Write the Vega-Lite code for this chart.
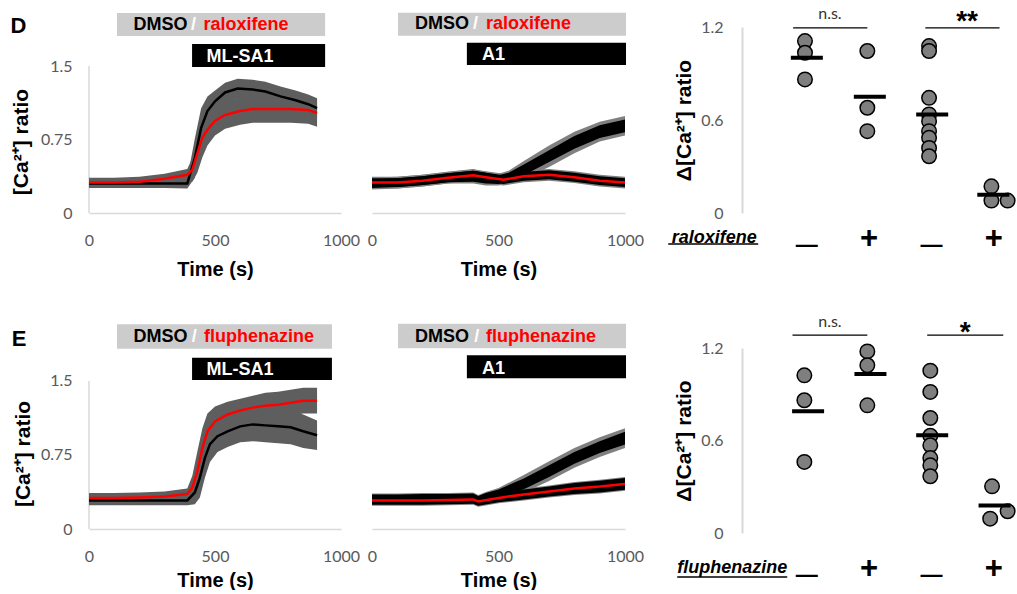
{
"$schema":"https://vega.github.io/schema/vega-lite/v6.json",
"background":"#ffffff",
"padding":{"left":10,"top":5,"right":0,"bottom":0},
"autosize":{"type":"pad"},
"config":{"view":{"stroke":null},"axis":{"grid":false},"font":"Liberation Sans"},
"datasets":{
"hdr":[
{"p":"D1","kind":"grey","x1":111,"x2":937,"y1":1.806,"y2":2.041},
{"p":"D1","kind":"black","x1":409,"x2":937,"y1":1.49,"y2":1.724},
{"p":"D2","kind":"grey","x1":103,"x2":1004,"y1":1.809,"y2":2.044},
{"p":"D2","kind":"black","x1":375,"x2":1004,"y1":1.51,"y2":1.738},
{"p":"E1","kind":"grey","x1":111,"x2":964,"y1":1.827,"y2":2.074},
{"p":"E1","kind":"black","x1":409,"x2":964,"y1":1.51,"y2":1.736},
{"p":"E2","kind":"grey","x1":103,"x2":1004,"y1":1.831,"y2":2.08},
{"p":"E2","kind":"black","x1":375,"x2":1004,"y1":1.527,"y2":1.76}],
"htxt":[
{"p":"D1","part":"dmso","t":284,"v":1.923,"lab":"DMSO"},
{"p":"D1","part":"slash","t":415,"v":1.923,"lab":"/"},
{"p":"D1","part":"drug","t":623,"v":1.923,"lab":"raloxifene"},
{"p":"D1","part":"stim","t":599,"v":1.592,"lab":"ML-SA1"},
{"p":"D2","part":"dmso","t":277,"v":1.926,"lab":"DMSO"},
{"p":"D2","part":"slash","t":409,"v":1.926,"lab":"/"},
{"p":"D2","part":"drug","t":619,"v":1.926,"lab":"raloxifene"},
{"p":"D2","part":"stim","t":480,"v":1.612,"lab":"A1"},
{"p":"E1","part":"dmso","t":284,"v":1.945,"lab":"DMSO"},
{"p":"E1","part":"slash","t":418,"v":1.945,"lab":"/"},
{"p":"E1","part":"drug","t":675,"v":1.945,"lab":"fluphenazine"},
{"p":"E1","part":"stim","t":599,"v":1.611,"lab":"ML-SA1"},
{"p":"E2","part":"dmso","t":277,"v":1.945,"lab":"DMSO"},
{"p":"E2","part":"slash","t":414,"v":1.945,"lab":"/"},
{"p":"E2","part":"drug","t":668,"v":1.945,"lab":"fluphenazine"},
{"p":"E2","part":"stim","t":480,"v":1.626,"lab":"A1"}],
"lab":[
{"p":"D1","k":"letter","t":-280,"v":1.908,"lab":"D"},
{"p":"E1","k":"letter","t":-277,"v":1.93,"lab":"E"},
{"p":"D1","k":"yt","t":-266,"v":0.724,"lab":"[Ca²⁺] ratio"},
{"p":"E1","k":"yt","t":-258,"v":0.76,"lab":"[Ca²⁺] ratio"}],
"axl":[
{"p":"D1","t":0,"v0":0,"v1":1.5},
{"p":"E1","t":0,"v0":0,"v1":1.5}],
"ts":[
{"p":"D1","s":"DMSO","t":0,"m":0.30,"lo":0.255,"hi":0.345},
{"p":"D1","s":"DMSO","t":100,"m":0.30,"lo":0.255,"hi":0.345},
{"p":"D1","s":"DMSO","t":200,"m":0.30,"lo":0.255,"hi":0.345},
{"p":"D1","s":"DMSO","t":300,"m":0.30,"lo":0.255,"hi":0.345},
{"p":"D1","s":"DMSO","t":390,"m":0.30,"lo":0.25,"hi":0.35},
{"p":"D1","s":"DMSO","t":420,"m":0.56,"lo":0.36,"hi":0.76},
{"p":"D1","s":"DMSO","t":445,"m":0.87,"lo":0.67,"hi":1.07},
{"p":"D1","s":"DMSO","t":470,"m":1.04,"lo":0.89,"hi":1.19},
{"p":"D1","s":"DMSO","t":500,"m":1.14,"lo":1.03,"hi":1.25},
{"p":"D1","s":"DMSO","t":540,"m":1.23,"lo":1.13,"hi":1.33},
{"p":"D1","s":"DMSO","t":590,"m":1.27,"lo":1.17,"hi":1.37},
{"p":"D1","s":"DMSO","t":650,"m":1.26,"lo":1.16,"hi":1.36},
{"p":"D1","s":"DMSO","t":700,"m":1.24,"lo":1.14,"hi":1.34},
{"p":"D1","s":"DMSO","t":760,"m":1.19,"lo":1.09,"hi":1.29},
{"p":"D1","s":"DMSO","t":820,"m":1.15,"lo":1.05,"hi":1.25},
{"p":"D1","s":"DMSO","t":870,"m":1.11,"lo":1.01,"hi":1.21},
{"p":"D1","s":"DMSO","t":905,"m":1.07,"lo":0.97,"hi":1.17},
{"p":"D1","s":"drug","t":0,"m":0.31,"lo":0.26,"hi":0.36},
{"p":"D1","s":"drug","t":100,"m":0.31,"lo":0.26,"hi":0.36},
{"p":"D1","s":"drug","t":200,"m":0.32,"lo":0.27,"hi":0.37},
{"p":"D1","s":"drug","t":300,"m":0.35,"lo":0.30,"hi":0.40},
{"p":"D1","s":"drug","t":390,"m":0.39,"lo":0.33,"hi":0.45},
{"p":"D1","s":"drug","t":410,"m":0.44,"lo":0.32,"hi":0.56},
{"p":"D1","s":"drug","t":430,"m":0.61,"lo":0.41,"hi":0.81},
{"p":"D1","s":"drug","t":450,"m":0.77,"lo":0.57,"hi":0.97},
{"p":"D1","s":"drug","t":470,"m":0.85,"lo":0.69,"hi":1.01},
{"p":"D1","s":"drug","t":500,"m":0.94,"lo":0.79,"hi":1.09},
{"p":"D1","s":"drug","t":540,"m":1.00,"lo":0.86,"hi":1.14},
{"p":"D1","s":"drug","t":600,"m":1.04,"lo":0.90,"hi":1.18},
{"p":"D1","s":"drug","t":650,"m":1.06,"lo":0.92,"hi":1.20},
{"p":"D1","s":"drug","t":700,"m":1.06,"lo":0.92,"hi":1.20},
{"p":"D1","s":"drug","t":800,"m":1.06,"lo":0.92,"hi":1.20},
{"p":"D1","s":"drug","t":870,"m":1.05,"lo":0.91,"hi":1.19},
{"p":"D1","s":"drug","t":905,"m":1.02,"lo":0.88,"hi":1.16},
{"p":"D2","s":"DMSO","t":0,"m":0.30,"lo":0.24,"hi":0.36,"ilo":0.255,"ihi":0.345},
{"p":"D2","s":"DMSO","t":100,"m":0.31,"lo":0.25,"hi":0.37,"ilo":0.265,"ihi":0.355},
{"p":"D2","s":"DMSO","t":200,"m":0.33,"lo":0.27,"hi":0.39,"ilo":0.285,"ihi":0.375},
{"p":"D2","s":"DMSO","t":300,"m":0.36,"lo":0.30,"hi":0.42,"ilo":0.315,"ihi":0.405},
{"p":"D2","s":"DMSO","t":400,"m":0.385,"lo":0.30,"hi":0.45,"ilo":0.32,"ihi":0.43},
{"p":"D2","s":"DMSO","t":450,"m":0.36,"lo":0.28,"hi":0.42,"ilo":0.30,"ihi":0.41},
{"p":"D2","s":"DMSO","t":500,"m":0.34,"lo":0.28,"hi":0.40,"ilo":0.295,"ihi":0.385},
{"p":"D2","s":"DMSO","t":540,"m":0.365,"lo":0.30,"hi":0.43,"ilo":0.32,"ihi":0.41},
{"p":"D2","s":"DMSO","t":600,"m":0.44,"lo":0.35,"hi":0.53,"ilo":0.385,"ihi":0.495},
{"p":"D2","s":"DMSO","t":700,"m":0.58,"lo":0.47,"hi":0.69,"ilo":0.52,"ihi":0.64},
{"p":"D2","s":"DMSO","t":800,"m":0.72,"lo":0.61,"hi":0.83,"ilo":0.655,"ihi":0.785},
{"p":"D2","s":"DMSO","t":900,"m":0.83,"lo":0.73,"hi":0.93,"ilo":0.765,"ihi":0.895},
{"p":"D2","s":"DMSO","t":1000,"m":0.89,"lo":0.79,"hi":0.99,"ilo":0.825,"ihi":0.955},
{"p":"D2","s":"drug","t":0,"m":0.31,"lo":0.25,"hi":0.37,"ilo":0.265,"ihi":0.355},
{"p":"D2","s":"drug","t":100,"m":0.31,"lo":0.25,"hi":0.37,"ilo":0.265,"ihi":0.355},
{"p":"D2","s":"drug","t":200,"m":0.33,"lo":0.27,"hi":0.39,"ilo":0.285,"ihi":0.375},
{"p":"D2","s":"drug","t":300,"m":0.36,"lo":0.30,"hi":0.42,"ilo":0.315,"ihi":0.405},
{"p":"D2","s":"drug","t":400,"m":0.385,"lo":0.325,"hi":0.445,"ilo":0.34,"ihi":0.43},
{"p":"D2","s":"drug","t":450,"m":0.365,"lo":0.305,"hi":0.425,"ilo":0.32,"ihi":0.41},
{"p":"D2","s":"drug","t":520,"m":0.34,"lo":0.28,"hi":0.40,"ilo":0.295,"ihi":0.385},
{"p":"D2","s":"drug","t":600,"m":0.375,"lo":0.315,"hi":0.435,"ilo":0.33,"ihi":0.42},
{"p":"D2","s":"drug","t":700,"m":0.39,"lo":0.33,"hi":0.45,"ilo":0.345,"ihi":0.435},
{"p":"D2","s":"drug","t":800,"m":0.365,"lo":0.305,"hi":0.425,"ilo":0.32,"ihi":0.41},
{"p":"D2","s":"drug","t":900,"m":0.33,"lo":0.27,"hi":0.39,"ilo":0.285,"ihi":0.375},
{"p":"D2","s":"drug","t":1000,"m":0.31,"lo":0.25,"hi":0.37,"ilo":0.265,"ihi":0.355},
{"p":"E1","s":"DMSO","t":0,"m":0.29,"lo":0.24,"hi":0.34},
{"p":"E1","s":"DMSO","t":100,"m":0.29,"lo":0.24,"hi":0.34},
{"p":"E1","s":"DMSO","t":200,"m":0.29,"lo":0.24,"hi":0.34},
{"p":"E1","s":"DMSO","t":300,"m":0.29,"lo":0.24,"hi":0.34},
{"p":"E1","s":"DMSO","t":390,"m":0.29,"lo":0.24,"hi":0.34},
{"p":"E1","s":"DMSO","t":420,"m":0.37,"lo":0.25,"hi":0.49},
{"p":"E1","s":"DMSO","t":440,"m":0.52,"lo":0.32,"hi":0.72},
{"p":"E1","s":"DMSO","t":460,"m":0.72,"lo":0.52,"hi":0.92},
{"p":"E1","s":"DMSO","t":480,"m":0.86,"lo":0.68,"hi":1.04},
{"p":"E1","s":"DMSO","t":510,"m":0.94,"lo":0.78,"hi":1.10},
{"p":"E1","s":"DMSO","t":550,"m":0.99,"lo":0.83,"hi":1.15},
{"p":"E1","s":"DMSO","t":600,"m":1.04,"lo":0.88,"hi":1.20},
{"p":"E1","s":"DMSO","t":650,"m":1.06,"lo":0.89,"hi":1.23},
{"p":"E1","s":"DMSO","t":700,"m":1.05,"lo":0.88,"hi":1.22},
{"p":"E1","s":"DMSO","t":750,"m":1.04,"lo":0.87,"hi":1.21},
{"p":"E1","s":"DMSO","t":800,"m":1.03,"lo":0.86,"hi":1.20},
{"p":"E1","s":"DMSO","t":850,"m":0.99,"lo":0.82,"hi":1.16},
{"p":"E1","s":"DMSO","t":905,"m":0.95,"lo":0.80,"hi":1.10},
{"p":"E1","s":"drug","t":0,"m":0.315,"lo":0.265,"hi":0.365},
{"p":"E1","s":"drug","t":100,"m":0.315,"lo":0.265,"hi":0.365},
{"p":"E1","s":"drug","t":200,"m":0.32,"lo":0.27,"hi":0.37},
{"p":"E1","s":"drug","t":300,"m":0.33,"lo":0.28,"hi":0.38},
{"p":"E1","s":"drug","t":390,"m":0.355,"lo":0.30,"hi":0.41},
{"p":"E1","s":"drug","t":410,"m":0.42,"lo":0.30,"hi":0.54},
{"p":"E1","s":"drug","t":430,"m":0.585,"lo":0.385,"hi":0.785},
{"p":"E1","s":"drug","t":450,"m":0.82,"lo":0.62,"hi":1.02},
{"p":"E1","s":"drug","t":470,"m":0.99,"lo":0.81,"hi":1.17},
{"p":"E1","s":"drug","t":500,"m":1.09,"lo":0.94,"hi":1.24},
{"p":"E1","s":"drug","t":550,"m":1.16,"lo":1.03,"hi":1.29},
{"p":"E1","s":"drug","t":600,"m":1.20,"lo":1.08,"hi":1.32},
{"p":"E1","s":"drug","t":650,"m":1.23,"lo":1.11,"hi":1.35},
{"p":"E1","s":"drug","t":700,"m":1.25,"lo":1.12,"hi":1.38},
{"p":"E1","s":"drug","t":750,"m":1.26,"lo":1.13,"hi":1.39},
{"p":"E1","s":"drug","t":800,"m":1.28,"lo":1.15,"hi":1.41},
{"p":"E1","s":"drug","t":850,"m":1.30,"lo":1.17,"hi":1.43},
{"p":"E1","s":"drug","t":905,"m":1.30,"lo":1.17,"hi":1.43},
{"p":"E2","s":"DMSO","t":0,"m":0.305,"lo":0.25,"hi":0.36,"ilo":0.26,"ihi":0.35},
{"p":"E2","s":"DMSO","t":100,"m":0.305,"lo":0.25,"hi":0.36,"ilo":0.26,"ihi":0.35},
{"p":"E2","s":"DMSO","t":200,"m":0.31,"lo":0.255,"hi":0.365,"ilo":0.265,"ihi":0.355},
{"p":"E2","s":"DMSO","t":300,"m":0.31,"lo":0.255,"hi":0.365,"ilo":0.265,"ihi":0.355},
{"p":"E2","s":"DMSO","t":400,"m":0.315,"lo":0.26,"hi":0.37,"ilo":0.27,"ihi":0.36},
{"p":"E2","s":"DMSO","t":420,"m":0.29,"lo":0.235,"hi":0.345,"ilo":0.245,"ihi":0.335},
{"p":"E2","s":"DMSO","t":450,"m":0.32,"lo":0.265,"hi":0.375,"ilo":0.275,"ihi":0.365},
{"p":"E2","s":"DMSO","t":500,"m":0.355,"lo":0.295,"hi":0.415,"ilo":0.31,"ihi":0.40},
{"p":"E2","s":"DMSO","t":600,"m":0.457,"lo":0.367,"hi":0.547,"ilo":0.402,"ihi":0.512},
{"p":"E2","s":"DMSO","t":700,"m":0.586,"lo":0.486,"hi":0.686,"ilo":0.526,"ihi":0.646},
{"p":"E2","s":"DMSO","t":800,"m":0.72,"lo":0.62,"hi":0.82,"ilo":0.66,"ihi":0.78},
{"p":"E2","s":"DMSO","t":900,"m":0.83,"lo":0.73,"hi":0.93,"ilo":0.77,"ihi":0.89},
{"p":"E2","s":"DMSO","t":1000,"m":0.92,"lo":0.82,"hi":1.02,"ilo":0.855,"ihi":0.985},
{"p":"E2","s":"drug","t":0,"m":0.29,"lo":0.235,"hi":0.345,"ilo":0.245,"ihi":0.335},
{"p":"E2","s":"drug","t":200,"m":0.29,"lo":0.235,"hi":0.345,"ilo":0.245,"ihi":0.335},
{"p":"E2","s":"drug","t":400,"m":0.30,"lo":0.245,"hi":0.355,"ilo":0.255,"ihi":0.345},
{"p":"E2","s":"drug","t":420,"m":0.28,"lo":0.225,"hi":0.335,"ilo":0.235,"ihi":0.325},
{"p":"E2","s":"drug","t":500,"m":0.315,"lo":0.26,"hi":0.37,"ilo":0.27,"ihi":0.36},
{"p":"E2","s":"drug","t":600,"m":0.35,"lo":0.29,"hi":0.41,"ilo":0.30,"ihi":0.40},
{"p":"E2","s":"drug","t":700,"m":0.38,"lo":0.32,"hi":0.44,"ilo":0.33,"ihi":0.43},
{"p":"E2","s":"drug","t":800,"m":0.41,"lo":0.345,"hi":0.475,"ilo":0.355,"ihi":0.465},
{"p":"E2","s":"drug","t":900,"m":0.43,"lo":0.36,"hi":0.50,"ilo":0.37,"ihi":0.49},
{"p":"E2","s":"drug","t":1000,"m":0.457,"lo":0.387,"hi":0.527,"ilo":0.397,"ihi":0.517}],
"dots":[
{"p":"D3","pos":0.98,"v":1.109},{"p":"D3","pos":0.98,"v":1.034},{"p":"D3","pos":0.98,"v":0.862},
{"p":"D3","pos":1.98,"v":1.045},{"p":"D3","pos":1.98,"v":0.679},{"p":"D3","pos":1.98,"v":0.528},
{"p":"D3","pos":2.97,"v":1.077},{"p":"D3","pos":2.97,"v":1.045},{"p":"D3","pos":2.97,"v":0.743},{"p":"D3","pos":2.97,"v":0.636},{"p":"D3","pos":2.97,"v":0.592},{"p":"D3","pos":2.97,"v":0.528},{"p":"D3","pos":2.97,"v":0.485},{"p":"D3","pos":2.97,"v":0.42},{"p":"D3","pos":2.97,"v":0.366},
{"p":"D3","pos":3.97,"v":0.172},{"p":"D3","pos":3.97,"v":0.08},{"p":"D3","pos":4.23,"v":0.08},
{"p":"E3","pos":0.97,"v":1.023},{"p":"E3","pos":0.97,"v":0.861},{"p":"E3","pos":0.97,"v":0.461},
{"p":"E3","pos":1.98,"v":1.178},{"p":"E3","pos":1.98,"v":1.088},{"p":"E3","pos":1.98,"v":0.828},
{"p":"E3","pos":2.99,"v":1.053},{"p":"E3","pos":2.99,"v":0.915},{"p":"E3","pos":2.99,"v":0.746},{"p":"E3","pos":2.99,"v":0.631},{"p":"E3","pos":2.99,"v":0.569},{"p":"E3","pos":2.99,"v":0.486},{"p":"E3","pos":2.99,"v":0.439},{"p":"E3","pos":2.99,"v":0.368},
{"p":"E3","pos":3.98,"v":0.303},{"p":"E3","pos":3.95,"v":0.093},{"p":"E3","pos":4.23,"v":0.141}],
"means":[
{"p":"D3","pos":1.01,"v":1.002},{"p":"D3","pos":2.02,"v":0.75},{"p":"D3","pos":3.02,"v":0.636},{"p":"D3","pos":4.0,"v":0.118},
{"p":"E3","pos":1.03,"v":0.789},{"p":"E3","pos":2.03,"v":1.031},{"p":"E3","pos":3.02,"v":0.634},{"p":"E3","pos":4.02,"v":0.179}],
"sig":[
{"p":"D3","x1":0.79,"x2":1.98,"v":1.194},{"p":"D3","x1":2.91,"x2":4.1,"v":1.194},
{"p":"E3","x1":0.78,"x2":1.98,"v":1.284},{"p":"E3","x1":2.94,"x2":4.16,"v":1.284}],
"sigt":[
{"p":"D3","k":"ns","pos":1.38,"v":1.252,"lab":"n.s."},
{"p":"D3","k":"star","pos":3.58,"v":1.181,"lab":"**"},
{"p":"E3","k":"ns","pos":1.38,"v":1.336,"lab":"n.s."},
{"p":"E3","k":"star","pos":3.55,"v":1.243,"lab":"*"}],
"dlab":[
{"p":"D3","pos":-0.475,"v":-0.159,"lab":"raloxifene","u1":-1.213,"u2":0.23,"uv":-0.2},
{"p":"E3","pos":-0.187,"v":-0.227,"lab":"fluphenazine","u1":-1.069,"u2":0.695,"uv":-0.285}]
},
"columns":4,
"spacing":{"row":135,"column":31},
"bounds":"flush",
"concat":[
{"width":252,"height":186,"resolve":{"axis":{"x":"independent","y":"independent"}},"layer":[
{"data":{"name":"hdr"},"transform":[{"filter":"datum.p=='D1'"}],"mark":{"type":"rect"},"encoding":{"x":{"field":"x1","type":"quantitative","scale":{"domain":[0,1000]},"axis":null},"x2":{"field":"x2"},"y":{"field":"y1","type":"quantitative","scale":{"domain":[0,1.898]},"axis":null},"y2":{"field":"y2"},"fill":{"field":"kind","type":"nominal","scale":{"domain":["grey","black"],"range":["#cccccc","#000000"]},"legend":null}}},
{"data":{"name":"htxt"},"transform":[{"filter":"datum.p=='D1'"}],"mark":{"type":"text","font":"Liberation Sans","fontSize":18,"fontWeight":"bold","align":"center","baseline":"middle"},"encoding":{"x":{"field":"t","type":"quantitative","scale":{"domain":[0,1000]},"axis":null},"y":{"field":"v","type":"quantitative","scale":{"domain":[0,1.898]},"axis":null},"text":{"field":"lab"},"color":{"field":"part","type":"nominal","scale":{"domain":["dmso","slash","drug","stim"],"range":["#000000","#ffffff","#ff0000","#ffffff"]},"legend":null}}},
{"data":{"name":"lab"},"transform":[{"filter":"datum.p=='D1' && datum.k=='letter'"}],"mark":{"type":"text","font":"Liberation Sans","fontSize":22,"fontWeight":"bold","align":"center","baseline":"middle","color":"#000000"},"encoding":{"x":{"field":"t","type":"quantitative","scale":{"domain":[0,1000]},"axis":null},"y":{"field":"v","type":"quantitative","scale":{"domain":[0,1.898]},"axis":null},"text":{"field":"lab"}}},
{"data":{"name":"lab"},"transform":[{"filter":"datum.p=='D1' && datum.k=='yt'"}],"mark":{"type":"text","font":"Liberation Sans","fontSize":21,"fontWeight":"bold","align":"center","baseline":"middle","angle":270,"color":"#000000"},"encoding":{"x":{"field":"t","type":"quantitative","scale":{"domain":[0,1000]},"axis":null},"y":{"field":"v","type":"quantitative","scale":{"domain":[0,1.898]},"axis":null},"text":{"field":"lab"}}},
{"data":{"name":"axl"},"transform":[{"filter":"datum.p=='D1'"}],"mark":{"type":"rule","color":"#d9d9d9","strokeWidth":1.5},"encoding":{"x":{"field":"t","type":"quantitative","scale":{"domain":[0,1000]},"axis":null},"y":{"field":"v0","type":"quantitative","scale":{"domain":[0,1.898]},"axis":null},"y2":{"field":"v1"}}},
{"data":{"name":"ts"},"transform":[{"filter":"datum.p=='D1'"}],"mark":{"type":"area","color":"#5e5e5e","opacity":1},"encoding":{"x":{"field":"t","type":"quantitative","scale":{"domain":[0,1000]},"axis":{"values":[0,500,1000],"format":"d","title":"Time (s)","labelFont":"Lato","labelFontSize":16,"labelColor":"#595959","labelPadding":19,"ticks":false,"tickSize":0,"domainColor":"#d9d9d9","domainWidth":1.5,"titleFont":"Liberation Sans","titleFontSize":20,"titleFontWeight":"bold","titleColor":"#000000","titlePadding":11,"labelFlush":false,"labelOverlap":false}},"y":{"field":"lo","type":"quantitative","scale":{"domain":[0,1.898]},"axis":{"values":[0,0.75,1.5],"format":".2~f","title":null,"domain":false,"ticks":false,"tickSize":0,"labelFont":"Lato","labelFontSize":16,"labelColor":"#595959","labelPadding":17}},"y2":{"field":"hi"},"detail":{"field":"s","type":"nominal"}}},
{"data":{"name":"ts"},"transform":[{"filter":"datum.p=='D1' && datum.s=='DMSO'"}],"mark":{"type":"line","color":"#000000","strokeWidth":2.5},"encoding":{"x":{"field":"t","type":"quantitative","scale":{"domain":[0,1000]},"axis":null},"y":{"field":"m","type":"quantitative","scale":{"domain":[0,1.898]},"axis":null}}},
{"data":{"name":"ts"},"transform":[{"filter":"datum.p=='D1' && datum.s=='drug'"}],"mark":{"type":"line","color":"#ff0000","strokeWidth":2.5},"encoding":{"x":{"field":"t","type":"quantitative","scale":{"domain":[0,1000]},"axis":null},"y":{"field":"m","type":"quantitative","scale":{"domain":[0,1.898]},"axis":null}}}
]},
{"width":253,"height":186,"resolve":{"axis":{"x":"independent","y":"independent"}},"layer":[
{"data":{"name":"hdr"},"transform":[{"filter":"datum.p=='D2'"}],"mark":{"type":"rect"},"encoding":{"x":{"field":"x1","type":"quantitative","scale":{"domain":[0,1000]},"axis":null},"x2":{"field":"x2"},"y":{"field":"y1","type":"quantitative","scale":{"domain":[0,1.898]},"axis":null},"y2":{"field":"y2"},"fill":{"field":"kind","type":"nominal","scale":{"domain":["grey","black"],"range":["#cccccc","#000000"]},"legend":null}}},
{"data":{"name":"htxt"},"transform":[{"filter":"datum.p=='D2'"}],"mark":{"type":"text","font":"Liberation Sans","fontSize":18,"fontWeight":"bold","align":"center","baseline":"middle"},"encoding":{"x":{"field":"t","type":"quantitative","scale":{"domain":[0,1000]},"axis":null},"y":{"field":"v","type":"quantitative","scale":{"domain":[0,1.898]},"axis":null},"text":{"field":"lab"},"color":{"field":"part","type":"nominal","scale":{"domain":["dmso","slash","drug","stim"],"range":["#000000","#ffffff","#ff0000","#ffffff"]},"legend":null}}},
{"data":{"name":"ts"},"transform":[{"filter":"datum.p=='D2'"}],"mark":{"type":"area","color":"#808080","opacity":1},"encoding":{"x":{"field":"t","type":"quantitative","scale":{"domain":[0,1000]},"axis":{"values":[0,500,1000],"format":"d","title":"Time (s)","labelFont":"Lato","labelFontSize":16,"labelColor":"#595959","labelPadding":19,"ticks":false,"tickSize":0,"domainColor":"#d9d9d9","domainWidth":1.5,"titleFont":"Liberation Sans","titleFontSize":20,"titleFontWeight":"bold","titleColor":"#000000","titlePadding":11,"labelFlush":false,"labelOverlap":false}},"y":{"field":"lo","type":"quantitative","scale":{"domain":[0,1.898]},"axis":null},"y2":{"field":"hi"},"detail":{"field":"s","type":"nominal"}}},
{"data":{"name":"ts"},"transform":[{"filter":"datum.p=='D2'"}],"mark":{"type":"area","color":"#000000","opacity":1},"encoding":{"x":{"field":"t","type":"quantitative","scale":{"domain":[0,1000]},"axis":null},"y":{"field":"ilo","type":"quantitative","scale":{"domain":[0,1.898]},"axis":null},"y2":{"field":"ihi"},"detail":{"field":"s","type":"nominal"}}},
{"data":{"name":"ts"},"transform":[{"filter":"datum.p=='D2' && datum.s=='drug'"}],"mark":{"type":"line","color":"#ff0000","strokeWidth":2.5},"encoding":{"x":{"field":"t","type":"quantitative","scale":{"domain":[0,1000]},"axis":null},"y":{"field":"m","type":"quantitative","scale":{"domain":[0,1.898]},"axis":null}}}
]},
{"width":55,"height":10,"data":{"values":[]},"mark":{"type":"point","opacity":0}},
{"width":270,"height":186,"resolve":{"axis":{"x":"independent","y":"independent"}},"layer":[
{"data":{"name":"dots"},"transform":[{"filter":"datum.p=='D3'"}],"mark":{"type":"circle","size":210,"fill":"#7f7f7f","stroke":"#000000","strokeWidth":1.5,"opacity":1},"encoding":{"x":{"field":"pos","type":"quantitative","scale":{"domain":[-0.03,4.3]},"axis":{"values":[1,2,3,4],"labelExpr":"datum.value % 2 == 1 ? '—' : '+'","domain":false,"ticks":false,"tickSize":0,"labelFont":"Liberation Sans","labelFontSize":{"condition":{"test":"datum.value % 2 == 0","value":31},"value":22},"labelFontWeight":"bold","labelColor":"#000000","labelPadding":{"condition":{"test":"datum.value % 2 == 0","value":25},"value":31},"labelBaseline":"middle","labelFlush":false,"labelOverlap":false,"title":null}},"y":{"field":"v","type":"quantitative","scale":{"domain":[0,1.2]},"axis":{"values":[0,0.6,1.2],"format":".1~f","labelFont":"Lato","labelFontSize":16,"labelColor":"#595959","labelPadding":19,"ticks":false,"tickSize":0,"domainColor":"#d9d9d9","domainWidth":2,"title":"Δ[Ca²⁺] ratio","titleFont":"Liberation Sans","titleFontSize":21,"titleFontWeight":"bold","titleColor":"#000000","titlePadding":6}}}},
{"data":{"name":"means"},"transform":[{"filter":"datum.p=='D3'"}],"mark":{"type":"tick","orient":"horizontal","size":32,"thickness":4,"color":"#000000","opacity":1},"encoding":{"x":{"field":"pos","type":"quantitative","scale":{"domain":[-0.03,4.3]},"axis":null},"y":{"field":"v","type":"quantitative","scale":{"domain":[0,1.2]},"axis":null}}},
{"data":{"name":"sig"},"transform":[{"filter":"datum.p=='D3'"}],"mark":{"type":"rule","color":"#000000","strokeWidth":1.2},"encoding":{"x":{"field":"x1","type":"quantitative","scale":{"domain":[-0.03,4.3]},"axis":null},"x2":{"field":"x2"},"y":{"field":"v","type":"quantitative","scale":{"domain":[0,1.2]},"axis":null}}},
{"data":{"name":"sigt"},"transform":[{"filter":"datum.p=='D3' && datum.k=='ns'"}],"mark":{"type":"text","font":"Lato","fontSize":16,"align":"center","baseline":"alphabetic","color":"#333333"},"encoding":{"x":{"field":"pos","type":"quantitative","scale":{"domain":[-0.03,4.3]},"axis":null},"y":{"field":"v","type":"quantitative","scale":{"domain":[0,1.2]},"axis":null},"text":{"field":"lab"}}},
{"data":{"name":"sigt"},"transform":[{"filter":"datum.p=='D3' && datum.k=='star'"}],"mark":{"type":"text","font":"Liberation Sans","fontSize":28,"fontWeight":"bold","align":"center","baseline":"alphabetic","color":"#000000"},"encoding":{"x":{"field":"pos","type":"quantitative","scale":{"domain":[-0.03,4.3]},"axis":null},"y":{"field":"v","type":"quantitative","scale":{"domain":[0,1.2]},"axis":null},"text":{"field":"lab"}}},
{"data":{"name":"dlab"},"transform":[{"filter":"datum.p=='D3'"}],"mark":{"type":"text","font":"Liberation Sans","fontSize":18,"fontWeight":"bold","fontStyle":"italic","align":"center","baseline":"middle","color":"#000000"},"encoding":{"x":{"field":"pos","type":"quantitative","scale":{"domain":[-0.03,4.3]},"axis":null},"y":{"field":"v","type":"quantitative","scale":{"domain":[0,1.2]},"axis":null},"text":{"field":"lab"}}},
{"data":{"name":"dlab"},"transform":[{"filter":"datum.p=='D3'"}],"mark":{"type":"rule","color":"#000000","strokeWidth":1.5},"encoding":{"x":{"field":"u1","type":"quantitative","scale":{"domain":[-0.03,4.3]},"axis":null},"x2":{"field":"u2"},"y":{"field":"uv","type":"quantitative","scale":{"domain":[0,1.2]},"axis":null}}}
]},
{"width":252,"height":181,"resolve":{"axis":{"x":"independent","y":"independent"}},"layer":[
{"data":{"name":"hdr"},"transform":[{"filter":"datum.p=='E1'"}],"mark":{"type":"rect"},"encoding":{"x":{"field":"x1","type":"quantitative","scale":{"domain":[0,1000]},"axis":null},"x2":{"field":"x2"},"y":{"field":"y1","type":"quantitative","scale":{"domain":[0,1.834]},"axis":null},"y2":{"field":"y2"},"fill":{"field":"kind","type":"nominal","scale":{"domain":["grey","black"],"range":["#cccccc","#000000"]},"legend":null}}},
{"data":{"name":"htxt"},"transform":[{"filter":"datum.p=='E1'"}],"mark":{"type":"text","font":"Liberation Sans","fontSize":18,"fontWeight":"bold","align":"center","baseline":"middle"},"encoding":{"x":{"field":"t","type":"quantitative","scale":{"domain":[0,1000]},"axis":null},"y":{"field":"v","type":"quantitative","scale":{"domain":[0,1.834]},"axis":null},"text":{"field":"lab"},"color":{"field":"part","type":"nominal","scale":{"domain":["dmso","slash","drug","stim"],"range":["#000000","#ffffff","#ff0000","#ffffff"]},"legend":null}}},
{"data":{"name":"lab"},"transform":[{"filter":"datum.p=='E1' && datum.k=='letter'"}],"mark":{"type":"text","font":"Liberation Sans","fontSize":22,"fontWeight":"bold","align":"center","baseline":"middle","color":"#000000"},"encoding":{"x":{"field":"t","type":"quantitative","scale":{"domain":[0,1000]},"axis":null},"y":{"field":"v","type":"quantitative","scale":{"domain":[0,1.834]},"axis":null},"text":{"field":"lab"}}},
{"data":{"name":"lab"},"transform":[{"filter":"datum.p=='E1' && datum.k=='yt'"}],"mark":{"type":"text","font":"Liberation Sans","fontSize":21,"fontWeight":"bold","align":"center","baseline":"middle","angle":270,"color":"#000000"},"encoding":{"x":{"field":"t","type":"quantitative","scale":{"domain":[0,1000]},"axis":null},"y":{"field":"v","type":"quantitative","scale":{"domain":[0,1.834]},"axis":null},"text":{"field":"lab"}}},
{"data":{"name":"axl"},"transform":[{"filter":"datum.p=='E1'"}],"mark":{"type":"rule","color":"#d9d9d9","strokeWidth":1.5},"encoding":{"x":{"field":"t","type":"quantitative","scale":{"domain":[0,1000]},"axis":null},"y":{"field":"v0","type":"quantitative","scale":{"domain":[0,1.834]},"axis":null},"y2":{"field":"v1"}}},
{"data":{"name":"ts"},"transform":[{"filter":"datum.p=='E1'"}],"mark":{"type":"area","color":"#5e5e5e","opacity":1},"encoding":{"x":{"field":"t","type":"quantitative","scale":{"domain":[0,1000]},"axis":{"values":[0,500,1000],"format":"d","title":"Time (s)","labelFont":"Lato","labelFontSize":16,"labelColor":"#595959","labelPadding":19,"ticks":false,"tickSize":0,"domainColor":"#d9d9d9","domainWidth":1.5,"titleFont":"Liberation Sans","titleFontSize":20,"titleFontWeight":"bold","titleColor":"#000000","titlePadding":6,"labelFlush":false,"labelOverlap":false}},"y":{"field":"lo","type":"quantitative","scale":{"domain":[0,1.834]},"axis":{"values":[0,0.75,1.5],"format":".2~f","title":null,"domain":false,"ticks":false,"tickSize":0,"labelFont":"Lato","labelFontSize":16,"labelColor":"#595959","labelPadding":17}},"y2":{"field":"hi"},"detail":{"field":"s","type":"nominal"}}},
{"data":{"name":"ts"},"transform":[{"filter":"datum.p=='E1' && datum.s=='DMSO'"}],"mark":{"type":"line","color":"#000000","strokeWidth":2.5},"encoding":{"x":{"field":"t","type":"quantitative","scale":{"domain":[0,1000]},"axis":null},"y":{"field":"m","type":"quantitative","scale":{"domain":[0,1.834]},"axis":null}}},
{"data":{"name":"ts"},"transform":[{"filter":"datum.p=='E1' && datum.s=='drug'"}],"mark":{"type":"line","color":"#ff0000","strokeWidth":2.5},"encoding":{"x":{"field":"t","type":"quantitative","scale":{"domain":[0,1000]},"axis":null},"y":{"field":"m","type":"quantitative","scale":{"domain":[0,1.834]},"axis":null}}}
]},
{"width":253,"height":181,"resolve":{"axis":{"x":"independent","y":"independent"}},"layer":[
{"data":{"name":"hdr"},"transform":[{"filter":"datum.p=='E2'"}],"mark":{"type":"rect"},"encoding":{"x":{"field":"x1","type":"quantitative","scale":{"domain":[0,1000]},"axis":null},"x2":{"field":"x2"},"y":{"field":"y1","type":"quantitative","scale":{"domain":[0,1.834]},"axis":null},"y2":{"field":"y2"},"fill":{"field":"kind","type":"nominal","scale":{"domain":["grey","black"],"range":["#cccccc","#000000"]},"legend":null}}},
{"data":{"name":"htxt"},"transform":[{"filter":"datum.p=='E2'"}],"mark":{"type":"text","font":"Liberation Sans","fontSize":18,"fontWeight":"bold","align":"center","baseline":"middle"},"encoding":{"x":{"field":"t","type":"quantitative","scale":{"domain":[0,1000]},"axis":null},"y":{"field":"v","type":"quantitative","scale":{"domain":[0,1.834]},"axis":null},"text":{"field":"lab"},"color":{"field":"part","type":"nominal","scale":{"domain":["dmso","slash","drug","stim"],"range":["#000000","#ffffff","#ff0000","#ffffff"]},"legend":null}}},
{"data":{"name":"ts"},"transform":[{"filter":"datum.p=='E2'"}],"mark":{"type":"area","color":"#808080","opacity":1},"encoding":{"x":{"field":"t","type":"quantitative","scale":{"domain":[0,1000]},"axis":{"values":[0,500,1000],"format":"d","title":"Time (s)","labelFont":"Lato","labelFontSize":16,"labelColor":"#595959","labelPadding":19,"ticks":false,"tickSize":0,"domainColor":"#d9d9d9","domainWidth":1.5,"titleFont":"Liberation Sans","titleFontSize":20,"titleFontWeight":"bold","titleColor":"#000000","titlePadding":6,"labelFlush":false,"labelOverlap":false}},"y":{"field":"lo","type":"quantitative","scale":{"domain":[0,1.834]},"axis":null},"y2":{"field":"hi"},"detail":{"field":"s","type":"nominal"}}},
{"data":{"name":"ts"},"transform":[{"filter":"datum.p=='E2'"}],"mark":{"type":"area","color":"#000000","opacity":1},"encoding":{"x":{"field":"t","type":"quantitative","scale":{"domain":[0,1000]},"axis":null},"y":{"field":"ilo","type":"quantitative","scale":{"domain":[0,1.834]},"axis":null},"y2":{"field":"ihi"},"detail":{"field":"s","type":"nominal"}}},
{"data":{"name":"ts"},"transform":[{"filter":"datum.p=='E2' && datum.s=='drug'"}],"mark":{"type":"line","color":"#ff0000","strokeWidth":2.5},"encoding":{"x":{"field":"t","type":"quantitative","scale":{"domain":[0,1000]},"axis":null},"y":{"field":"m","type":"quantitative","scale":{"domain":[0,1.834]},"axis":null}}}
]},
{"width":55,"height":10,"data":{"values":[]},"mark":{"type":"point","opacity":0}},
{"width":270,"height":185,"resolve":{"axis":{"x":"independent","y":"independent"}},"layer":[
{"data":{"name":"dots"},"transform":[{"filter":"datum.p=='E3'"}],"mark":{"type":"circle","size":210,"fill":"#7f7f7f","stroke":"#000000","strokeWidth":1.5,"opacity":1},"encoding":{"x":{"field":"pos","type":"quantitative","scale":{"domain":[-0.03,4.3]},"axis":{"values":[1,2,3,4],"labelExpr":"datum.value % 2 == 1 ? '—' : '+'","domain":false,"ticks":false,"tickSize":0,"labelFont":"Liberation Sans","labelFontSize":{"condition":{"test":"datum.value % 2 == 0","value":31},"value":22},"labelFontWeight":"bold","labelColor":"#000000","labelPadding":{"condition":{"test":"datum.value % 2 == 0","value":35},"value":41},"labelBaseline":"middle","labelFlush":false,"labelOverlap":false,"title":null}},"y":{"field":"v","type":"quantitative","scale":{"domain":[0,1.2]},"axis":{"values":[0,0.6,1.2],"format":".1~f","labelFont":"Lato","labelFontSize":16,"labelColor":"#595959","labelPadding":19,"ticks":false,"tickSize":0,"domainColor":"#d9d9d9","domainWidth":2,"title":"Δ[Ca²⁺] ratio","titleFont":"Liberation Sans","titleFontSize":21,"titleFontWeight":"bold","titleColor":"#000000","titlePadding":6}}}},
{"data":{"name":"means"},"transform":[{"filter":"datum.p=='E3'"}],"mark":{"type":"tick","orient":"horizontal","size":32,"thickness":4,"color":"#000000","opacity":1},"encoding":{"x":{"field":"pos","type":"quantitative","scale":{"domain":[-0.03,4.3]},"axis":null},"y":{"field":"v","type":"quantitative","scale":{"domain":[0,1.2]},"axis":null}}},
{"data":{"name":"sig"},"transform":[{"filter":"datum.p=='E3'"}],"mark":{"type":"rule","color":"#000000","strokeWidth":1.2},"encoding":{"x":{"field":"x1","type":"quantitative","scale":{"domain":[-0.03,4.3]},"axis":null},"x2":{"field":"x2"},"y":{"field":"v","type":"quantitative","scale":{"domain":[0,1.2]},"axis":null}}},
{"data":{"name":"sigt"},"transform":[{"filter":"datum.p=='E3' && datum.k=='ns'"}],"mark":{"type":"text","font":"Lato","fontSize":16,"align":"center","baseline":"alphabetic","color":"#333333"},"encoding":{"x":{"field":"pos","type":"quantitative","scale":{"domain":[-0.03,4.3]},"axis":null},"y":{"field":"v","type":"quantitative","scale":{"domain":[0,1.2]},"axis":null},"text":{"field":"lab"}}},
{"data":{"name":"sigt"},"transform":[{"filter":"datum.p=='E3' && datum.k=='star'"}],"mark":{"type":"text","font":"Liberation Sans","fontSize":28,"fontWeight":"bold","align":"center","baseline":"alphabetic","color":"#000000"},"encoding":{"x":{"field":"pos","type":"quantitative","scale":{"domain":[-0.03,4.3]},"axis":null},"y":{"field":"v","type":"quantitative","scale":{"domain":[0,1.2]},"axis":null},"text":{"field":"lab"}}},
{"data":{"name":"dlab"},"transform":[{"filter":"datum.p=='E3'"}],"mark":{"type":"text","font":"Liberation Sans","fontSize":18,"fontWeight":"bold","fontStyle":"italic","align":"center","baseline":"middle","color":"#000000"},"encoding":{"x":{"field":"pos","type":"quantitative","scale":{"domain":[-0.03,4.3]},"axis":null},"y":{"field":"v","type":"quantitative","scale":{"domain":[0,1.2]},"axis":null},"text":{"field":"lab"}}},
{"data":{"name":"dlab"},"transform":[{"filter":"datum.p=='E3'"}],"mark":{"type":"rule","color":"#000000","strokeWidth":1.5},"encoding":{"x":{"field":"u1","type":"quantitative","scale":{"domain":[-0.03,4.3]},"axis":null},"x2":{"field":"u2"},"y":{"field":"uv","type":"quantitative","scale":{"domain":[0,1.2]},"axis":null}}}
]}
]
}
